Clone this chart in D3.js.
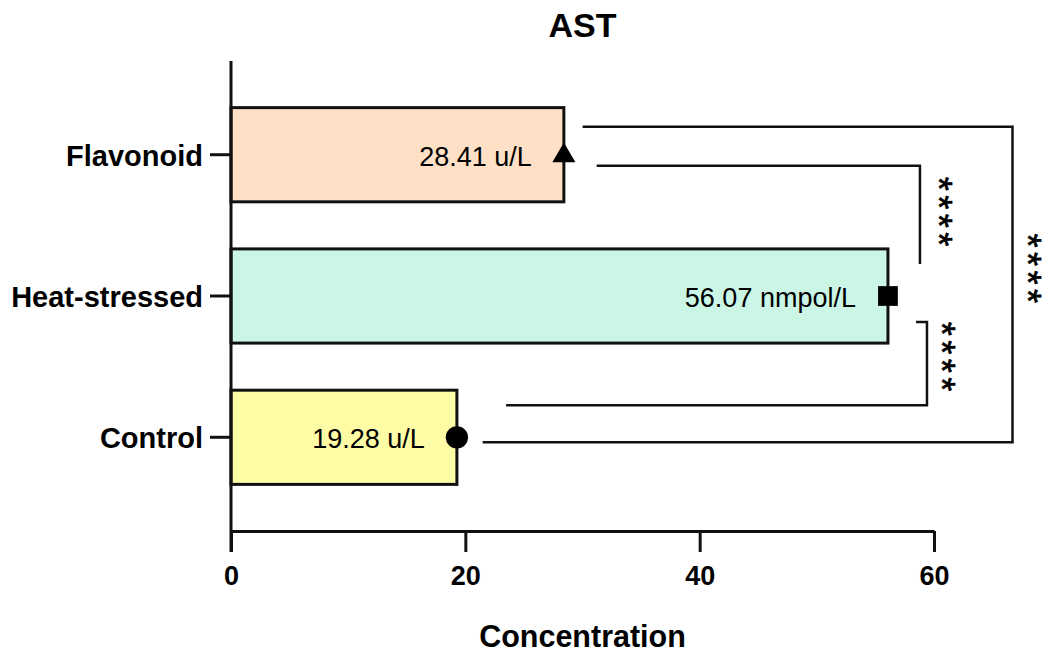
<!DOCTYPE html>
<html lang="en">
<head>
    <meta charset="UTF-8">
    <title>AST</title>
    <script src="https://cdn.jsdelivr.net/npm/d3@7"></script>
    <style>
        body { margin: 0; background: #fff; }
        text { font-family: "Liberation Sans", Arial, sans-serif; fill: #000; }
    </style>
</head>
<body>
    <svg id="chart" width="1049" height="653"></svg>
    <script>
        // data
        let groups = ["Flavonoid", "Heat-stressed", "Control"];
        let values = [28.41, 56.07, 19.28];
        let valueLabels = ["28.41 u/L", "56.07 nmpol/L", "19.28 u/L"];
        let barColors = ["#fde0c6", "#cbf6e6", "#fffca6"];
        let markers = [d3.symbolTriangle, d3.symbolSquare, d3.symbolCircle];
        let xTicks = [0, 20, 40, 60];
        let comparisons = [
            ["Flavonoid", "Heat-stressed", "****"],
            ["Heat-stressed", "Control", "****"],
            ["Flavonoid", "Control", "****"]
        ];

        // bracket layout (same order as comparisons)
        let bracketLayout = [
            { x: 58.8, dyA: 11, dyB: -32, gapA: 2.8, gapB: 2.8, starDx: 27, starDy: -1 },
            { x: 59.4, dyA: 26, dyB: -32, gapA: 2.4, gapB: 4.2, starDx: 23, starDy: -5 },
            { x: 66.7, dyA: -28, dyB: 5, gapA: 1.6, gapB: 2.2, starDx: 23, starDy: -14 }
        ];

        let svg = d3.select("#chart");
        let plotLeft = 231, plotRight = 934, plotTop = 61, axisY = 531;

        let x = d3.scaleLinear().domain([0, 60]).range([plotLeft, plotRight]);
        let y = d3.scaleBand().domain(groups).range([plotTop, axisY])
            .paddingInner(1 / 3).paddingOuter(0.33);
        let yc = g => y(g) + y.bandwidth() / 2;

        // title
        svg.append("text")
            .attr("x", (plotLeft + plotRight) / 2)
            .attr("y", 37)
            .attr("text-anchor", "middle")
            .attr("font-size", 34)
            .attr("font-weight", "bold")
            .text("AST");

        // bars
        svg.selectAll(".bar")
            .data(groups)
            .join("rect")
            .attr("class", "bar")
            .attr("x", x(0))
            .attr("y", d => y(d))
            .attr("width", (d, i) => x(values[i]) - x(0))
            .attr("height", y.bandwidth())
            .attr("fill", (d, i) => barColors[i])
            .attr("stroke", "#111")
            .attr("stroke-width", 3);

        // value labels
        svg.selectAll(".vlabel")
            .data(groups)
            .join("text")
            .attr("class", "vlabel")
            .attr("x", (d, i) => x(values[i]) - 32)
            .attr("y", d => yc(d))
            .attr("dy", "0.4em")
            .attr("text-anchor", "end")
            .attr("font-size", 27)
            .text((d, i) => valueLabels[i]);

        // markers
        svg.selectAll(".marker")
            .data(groups)
            .join("path")
            .attr("class", "marker")
            .attr("transform", (d, i) => `translate(${x(values[i])},${yc(d) + (i === 0 ? 1 : 0)})`)
            .attr("d", (d, i) => d3.symbol().type(markers[i]).size(i === 0 ? 230 : 390)())
            .attr("fill", "#000");

        // x axis
        let xAxis = svg.append("g")
            .attr("transform", `translate(0,${axisY})`)
            .call(d3.axisBottom(x).tickValues(xTicks).tickSize(21).tickSizeOuter(0).tickPadding(14));
        xAxis.select(".domain").attr("stroke", "#111").attr("stroke-width", 3);
        xAxis.selectAll(".tick line").attr("stroke", "#111").attr("stroke-width", 3);
        xAxis.selectAll(".tick text")
            .attr("font-size", 27)
            .attr("font-weight", "bold")
            .attr("font-family", "'Liberation Sans', Arial, sans-serif")
            .attr("fill", "#000");

        // y axis
        let yAxis = svg.append("g")
            .attr("transform", `translate(${plotLeft},0)`)
            .call(d3.axisLeft(y).tickSize(21).tickPadding(7));
        yAxis.select(".domain").remove();
        yAxis.selectAll(".tick line").attr("stroke", "#111").attr("stroke-width", 3);
        yAxis.selectAll(".tick text")
            .attr("font-size", 29)
            .attr("font-weight", "bold")
            .attr("dy", "0.38em")
            .attr("font-family", "'Liberation Sans', Arial, sans-serif")
            .attr("fill", "#000");
        svg.append("line")
            .attr("x1", plotLeft).attr("x2", plotLeft)
            .attr("y1", plotTop).attr("y2", axisY + 21)
            .attr("stroke", "#111")
            .attr("stroke-width", 3);

        // x axis title
        svg.append("text")
            .attr("x", (plotLeft + plotRight) / 2)
            .attr("y", 647)
            .attr("text-anchor", "middle")
            .attr("font-size", 30.5)
            .attr("font-weight", "bold")
            .text("Concentration");

        // significance brackets
        comparisons.forEach((c, k) => {
            let b = bracketLayout[k];
            let ia = groups.indexOf(c[0]), ib = groups.indexOf(c[1]);
            let ya = yc(c[0]) + b.dyA, yb = yc(c[1]) + b.dyB;
            let bx = x(b.x);
            let path = d3.path();
            path.moveTo(x(values[ia] + b.gapA), ya);
            path.lineTo(bx, ya);
            path.lineTo(bx, yb);
            path.lineTo(Math.min(bx, x(values[ib] + b.gapB)), yb);
            svg.append("path")
                .attr("d", path.toString())
                .attr("fill", "none")
                .attr("stroke", "#111")
                .attr("stroke-width", 2.5);

            let fs = 36;
            svg.append("text")
                .attr("transform", `translate(${bx + b.starDx},${(ya + yb) / 2 + b.starDy}) rotate(90)`)
                .attr("y", 0.58 * fs)
                .attr("text-anchor", "middle")
                .attr("font-size", fs)
                .attr("stroke", "#000")
                .attr("stroke-width", 0.7)
                .attr("letter-spacing", 4.5)
                .text(c[2]);
        });
    </script>
</body>
</html>
